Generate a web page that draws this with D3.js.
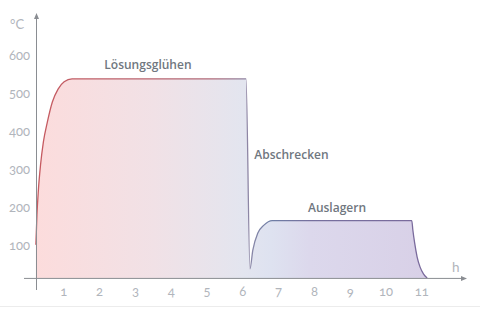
<!DOCTYPE html>
<html>
<head>
<meta charset="utf-8">
<script src="https://cdn.jsdelivr.net/npm/d3@7"></script>
<style>
  body { margin: 0; background: #fff; }
  svg { display: block; font-family: "Open Sans", "Noto Sans", sans-serif; }
  .tick-label { fill: #b1b5bc; font-family: Lato, "Open Sans", sans-serif; font-size: 13px; font-feature-settings: "onum" 1; font-variant-numeric: oldstyle-nums; }
  .phase { fill: #707780; font-size: 12px; font-weight: 600; }
</style>
</head>
<body>
<div id="chart"></div>
<script>
// Heat treatment curve (time in h, temperature in °C)
const hours = [0.22, 0.25, 0.29, 0.35, 0.43, 0.54, 0.68, 0.84, 1.01, 1.23,
               6.09, 6.2, 6.28, 6.42, 6.59, 6.82,
               10.72, 10.75, 10.8, 10.87, 10.95, 11.05, 11.15];
const temps = [103, 182, 247, 313, 374, 426, 479, 513, 532, 540,
               540, 40, 89, 134, 155, 167,
               167, 142, 108, 71, 45, 26, 16];

const xTicks = [1, 2, 3, 4, 5, 6, 7, 8, 9, 10, 11];
const yTicks = [100, 200, 300, 400, 500, 600];
const phaseNames = ["Lösungsglühen", "Abschrecken", "Auslagern"];
const baseTemp = 16;

const width = 480;
const height = 309;

const x = d3.scaleLinear().domain([0, 11]).range([28, 421.8]);
const y = d3.scaleLinear().domain([0, 600]).range([284, 56]);
const axisX = 36;

const data = hours.map((h, i) => ({ h, t: temps[i] }));

const svg = d3.select("#chart")
    .append("svg")
    .attr("width", width)
    .attr("height", height);

const defs = svg.append("defs");

// fill gradient, pink -> pale blue -> lavender
const fillGrad = defs.append("linearGradient")
    .attr("id", "fillGrad")
    .attr("gradientUnits", "userSpaceOnUse")
    .attr("x1", axisX).attr("x2", x(11.15))
    .attr("y1", 0).attr("y2", 0);
[[0, "#fcdcdc"], [0.3, "#f1e1e6"], [0.53, "#e3e5ef"], [0.6, "#dee2f0"], [0.7, "#dcd8ec"], [1, "#d8d0e7"]]
    .forEach(s => fillGrad.append("stop").attr("offset", s[0]).attr("stop-color", s[1]));

const lineGrad = defs.append("linearGradient")
    .attr("id", "lineGrad")
    .attr("gradientUnits", "userSpaceOnUse")
    .attr("x1", axisX).attr("x2", x(11.15))
    .attr("y1", 0).attr("y2", 0);
[[0, "#c65a60"], [0.45, "#b26c7a"], [0.55, "#8a88a8"], [0.6, "#6f7fa6"], [0.7, "#76709e"], [1, "#7a6a9c"]]
    .forEach(s => lineGrad.append("stop").attr("offset", s[0]).attr("stop-color", s[1]));

// Area under the curve
const area = d3.area()
    .x(d => x(d.h))
    .y0(y(baseTemp))
    .y1(d => y(d.t))
    .curve(d3.curveMonotoneX);

svg.append("path")
    .datum(data)
    .attr("d", area)
    .attr("fill", "url(#fillGrad)");

const line = d3.line()
    .x(d => x(d.h))
    .y(d => y(d.t))
    .curve(d3.curveMonotoneX);

svg.append("path")
    .datum(data)
    .attr("d", line)
    .attr("fill", "none")
    .attr("stroke", "url(#lineGrad)")
    .attr("stroke-width", 1.3);

// Axes
const axisColor = "#8a8d92";
const x0 = y(baseTemp);

svg.append("line")
    .attr("x1", 24).attr("x2", 463)
    .attr("y1", x0 + 0.5).attr("y2", x0 + 0.5)
    .attr("stroke", axisColor).attr("stroke-width", 1);
svg.append("path")
    .attr("d", `M467,${x0 + 0.5}L461,${x0 - 2}L461,${x0 + 3}Z`)
    .attr("fill", axisColor);

svg.append("line")
    .attr("x1", axisX + 0.5).attr("x2", axisX + 0.5)
    .attr("y1", 18).attr("y2", 290)
    .attr("stroke", axisColor).attr("stroke-width", 1);
svg.append("path")
    .attr("d", `M${axisX + 0.5},13L${axisX - 2},19L${axisX + 3},19Z`)
    .attr("fill", axisColor);

// Tick labels
svg.selectAll(".xt")
    .data(xTicks)
    .join("text")
    .attr("class", "tick-label")
    .attr("x", d => x(d))
    .attr("y", 296)
    .attr("text-anchor", "middle")
    .text(d => d);

svg.selectAll(".yt")
    .data(yTicks)
    .join("text")
    .attr("class", "tick-label")
    .attr("x", 30)
    .attr("y", d => y(d) + 4)
    .attr("text-anchor", "end")
    .text(d => d);

svg.append("text")
    .attr("class", "tick-label")
    .attr("x", 10).attr("y", 29)
    .text("°C");

svg.append("text")
    .attr("class", "tick-label")
    .attr("x", 452).attr("y", 272)
    .style("font-size", "13.5px")
    .text("h");

// Phase labels
svg.append("text")
    .attr("class", "phase")
    .attr("x", x(3.35)).attr("y", y(540) - 10)
    .attr("text-anchor", "middle")
    .text(phaseNames[0]);

svg.append("text")
    .attr("class", "phase")
    .attr("x", x(6.32)).attr("y", y(330))
    .text(phaseNames[1]);

svg.append("text")
    .attr("class", "phase")
    .attr("x", x(7.82)).attr("y", y(190))
    .text(phaseNames[2]);

// faint frame at the bottom
svg.append("line")
    .attr("x1", 0).attr("x2", width)
    .attr("y1", 306.5).attr("y2", 306.5)
    .attr("stroke", "#ececec");
</script>
</body>
</html>
